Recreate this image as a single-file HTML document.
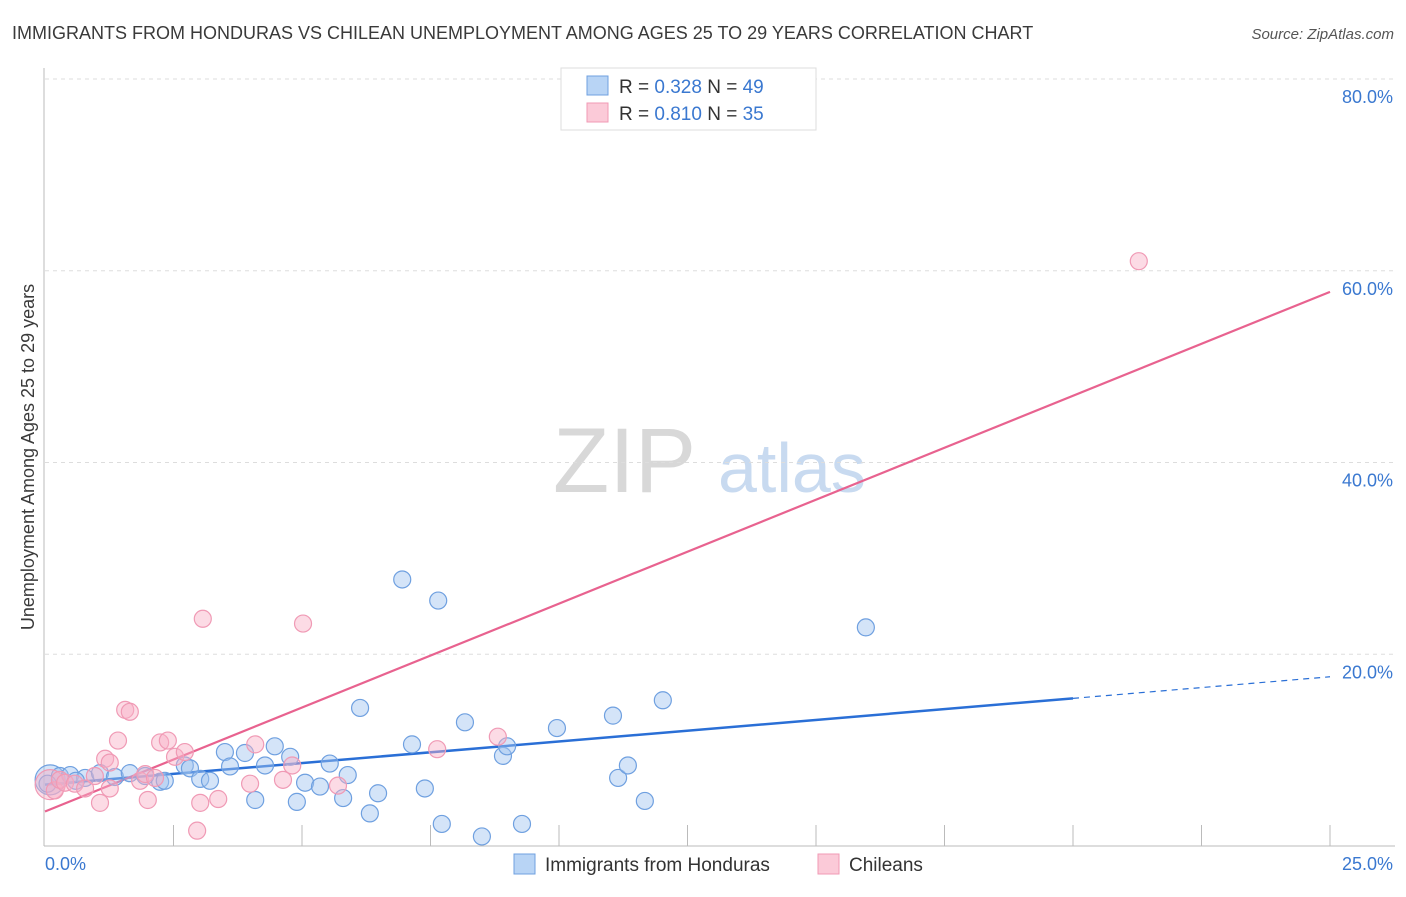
<!DOCTYPE html>
<html><head><meta charset="utf-8"><style>
body{margin:0;background:#fff;font-family:"Liberation Sans",sans-serif}
svg text{font-family:"Liberation Sans",sans-serif}
</style></head><body>
<svg id="chart" width="1406" height="892" viewBox="0 0 1406 892" xmlns="http://www.w3.org/2000/svg">
<text x="12" y="39" font-size="18" fill="#3a3a3a">IMMIGRANTS FROM HONDURAS VS CHILEAN UNEMPLOYMENT AMONG AGES 25 TO 29 YEARS CORRELATION CHART</text>
<text x="1394" y="39" font-size="15" fill="#555" text-anchor="end" font-style="italic">Source: ZipAtlas.com</text>
<g>
<text x="553" y="492" font-size="92" fill="#d8d8d8" font-family="Liberation Serif,serif">ZIP</text>
<text x="718" y="492" font-size="70" fill="#c8daf0">atlas</text>
</g>
<g id="grid"></g>
<g id="axes"></g>
<g id="lines"></g>
<g id="points"></g>
<text transform="translate(34,457) rotate(-90)" font-size="18" fill="#3a3a3a" text-anchor="middle">Unemployment Among Ages 25 to 29 years</text>
<g>
<rect x="561" y="68" width="255" height="62" fill="#fff" stroke="#ddd"/>
<rect x="587" y="76" width="21" height="19" fill="#b8d4f5" stroke="#6fa0e0"/>
<text x="619" y="93" font-size="19" fill="#333">R = <tspan fill="#3a78d0">0.328</tspan>   N = <tspan fill="#3a78d0">49</tspan></text>
<rect x="587" y="103" width="21" height="19" fill="#fbcad8" stroke="#f09ab5"/>
<text x="619" y="120" font-size="19" fill="#333">R = <tspan fill="#3a78d0">0.810</tspan>   N = <tspan fill="#3a78d0">35</tspan></text>
</g>
<g>
<rect x="514" y="854" width="21" height="20" fill="#b8d4f5" stroke="#6fa0e0"/>
<text x="545" y="871" font-size="19" fill="#333">Immigrants from Honduras</text>
<rect x="818" y="854" width="21" height="20" fill="#fbcad8" stroke="#f09ab5"/>
<text x="849" y="871" font-size="19" fill="#333">Chileans</text>
</g>
</svg>
<script>
const blueX=[0.10,0.29,0.49,0.78,1.07,1.36,1.65,1.95,2.24,2.33,2.72,2.82,3.02,3.21,3.50,3.60,3.89,4.09,4.28,4.47,4.77,4.90,5.06,5.35,5.54,5.80,5.89,6.13,6.32,6.48,6.95,7.14,7.39,7.65,7.72,8.17,8.50,8.91,8.99,9.28,9.96,11.05,11.15,11.34,11.67,12.02,15.97,0.05,0.6];
const blueY=[6.9,7.3,7.4,7.1,7.6,7.2,7.6,7.3,6.7,6.8,8.4,8.1,7.0,6.8,9.8,8.3,9.7,4.8,8.4,10.4,9.3,4.6,6.6,6.2,8.6,5.0,7.4,14.4,3.4,5.5,27.8,10.6,6.0,25.6,2.3,12.9,1.0,9.4,10.4,2.3,12.3,13.6,7.1,8.4,4.7,15.2,22.8,6.5,6.8];
const pinkX=[0.10,0.19,0.29,0.39,0.58,0.78,0.97,1.07,1.17,1.26,1.42,1.56,1.65,1.85,1.95,2.00,2.14,2.24,2.39,2.53,2.72,2.96,3.02,3.07,3.37,3.99,4.09,4.63,4.81,5.02,5.70,7.63,8.81,21.28,1.26];
const pinkY=[6.4,5.8,6.9,6.6,6.5,6.0,7.3,4.5,9.1,8.7,11.0,14.2,14.0,6.8,7.5,4.8,7.1,10.8,11.0,9.3,9.8,1.6,4.5,23.7,4.9,6.5,10.6,6.9,8.4,23.2,6.3,10.1,11.4,61.0,6.0];
const blueTrend=[6.4,0.45]; // intercept, slope
const pinkTrend=[3.6,2.168];
const yTicks=[20,40,60,80];
const xTickLabels=["0.0%","25.0%"];
const NS="http://www.w3.org/2000/svg";
const X0=45,X1=1330,Y0=846,Y80=79;
const sx=v=>X0+(v/25)*(X1-X0);
const sy=v=>Y0-(v/80)*(Y0-Y80);
function mk(tag,attrs,parent){const e=document.createElementNS(NS,tag);for(const k in attrs)e.setAttribute(k,attrs[k]);parent.appendChild(e);return e;}
const grid=document.getElementById('grid'),axes=document.getElementById('axes'),lines=document.getElementById('lines'),pts=document.getElementById('points');
yTicks.forEach(t=>{
 const l=mk('line',{x1:45,x2:1395,y1:sy(t),y2:sy(t),stroke:'#ddd','stroke-dasharray':'4,4'},grid);
 
 
 const tx=mk('text',{x:1393,y:sy(t)+24,'font-size':18,fill:'#3a78d0','text-anchor':'end'},grid);
 tx.textContent=t.toFixed(1)+'%';
 
 
});
const ya=mk('line',{x1:44,x2:44,y1:68,y2:Y0,stroke:'#bbb'},axes);


const xa=mk('line',{x1:44,x2:1395,y1:Y0,y2:Y0,stroke:'#bbb'},axes);


for(let i=1;i<=10;i++){
 const tk=mk('line',{x1:sx(i*2.5),x2:sx(i*2.5),y1:825,y2:Y0,stroke:'#bbb'},axes);
 
 
}
[[0,'start',45],[25,'end',1393]].forEach((a,i)=>{
 const t=mk('text',{x:a[2],y:870,'font-size':18,fill:'#3a78d0','text-anchor':a[1]},axes);
 t.textContent=xTickLabels[i];
 
 
});
const bp=mk('line',{x1:sx(0),y1:sy(blueTrend[0]),x2:sx(20),y2:sy(blueTrend[0]+blueTrend[1]*20),stroke:'#2a6fd6','stroke-width':2.5},lines);


const bd=mk('line',{x1:sx(20),y1:sy(blueTrend[0]+blueTrend[1]*20),x2:sx(25),y2:sy(blueTrend[0]+blueTrend[1]*25),stroke:'#2a6fd6','stroke-width':1.2,'stroke-dasharray':'6,5'},lines);


const pl=mk('line',{x1:sx(0),y1:sy(pinkTrend[0]),x2:sx(25),y2:sy(pinkTrend[0]+pinkTrend[1]*25),stroke:'#e8628f','stroke-width':2.2},lines);


function dots(xs,ys,fill,stroke,name){
 xs.forEach((x,i)=>{
  const c=mk('circle',{cx:sx(x),cy:sy(ys[i]),r:(i===0?15:8.5),fill:fill,stroke:stroke,'stroke-width':1.2},pts);
  
  
 });
}
dots(blueX,blueY,'rgba(160,196,240,0.45)','#6fa0e0','honduras-point');
dots(pinkX,pinkY,'rgba(248,176,198,0.45)','#f09ab5','chileans-point');
</script>
</body></html>
